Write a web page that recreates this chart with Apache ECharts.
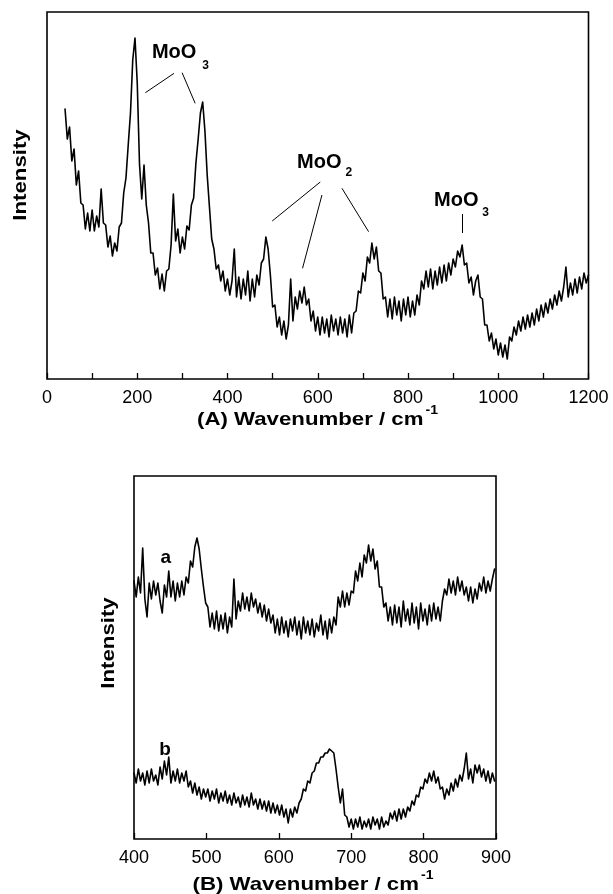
<!DOCTYPE html>
<html>
<head>
<meta charset="utf-8">
<script src="https://cdn.jsdelivr.net/npm/echarts@6/dist/echarts.min.js"></script>
<style>
  html, body { margin: 0; padding: 0; background: #fff; }
  #chart { width: 613px; height: 894px; }
</style>
</head>
<body>
<div id="chart"></div>
<script>
// Raman spectrum (A): intensities sampled every 5 cm-1 starting at 40 cm-1
const spectrumAStart = 40;
const spectrumAStep = 5;
const spectrumA = [
  270, 240, 252, 218, 230, 194, 208, 176, 174, 150,
  166, 148, 169, 148, 163, 152, 190, 156, 154, 132,
  143, 123, 136, 128, 152, 156, 186, 201, 234, 266,
  319, 341, 296, 215, 180, 214, 174, 156, 126, 126,
  104, 111, 90, 105, 88, 108, 110, 134, 185, 138,
  150, 126, 142, 130, 153, 149, 174, 181, 216, 240,
  266, 277, 248, 204, 172, 140, 130, 110, 114, 98,
  108, 88, 100, 84, 98, 130, 82, 102, 80, 100,
  84, 108, 78, 100, 82, 104, 94, 116, 120, 142,
  130, 104, 72, 74, 52, 62, 44, 58, 40, 54,
  100, 58, 82, 70, 88, 76, 92, 74, 80, 58,
  68, 48, 62, 44, 62, 46, 60, 42, 64, 48,
  60, 44, 62, 46, 60, 42, 64, 46, 66, 68,
  88, 86, 106, 98, 122, 116, 136, 120, 132, 108,
  106, 80, 82, 62, 80, 60, 82, 64, 78, 58,
  80, 64, 82, 62, 78, 64, 84, 74, 98, 90,
  108, 92, 110, 90, 108, 94, 112, 96, 114, 98,
  116, 104, 120, 112, 128, 122, 134, 114, 116, 96,
  102, 84, 98, 104, 82, 80, 54, 54, 38, 46,
  30, 40, 24, 36, 22, 34, 20, 42, 38, 52,
  44, 58, 48, 62, 50, 64, 52, 66, 54, 70,
  58, 74, 62, 76, 66, 80, 70, 84, 74, 88,
  78, 92, 112, 82, 96, 84, 100, 86, 102, 90,
  106, 96, 104
];

// Spectra (B): traces a and b sampled every 3 cm-1 starting at 400 cm-1
const spectraBStart = 400;
const spectraBStep = 3;
const traceA = [
  258, 242, 262, 246, 291, 240, 222, 256, 240, 258,
  244, 256, 238, 226, 254, 242, 268, 242, 258, 238,
  256, 242, 258, 244, 262, 256, 278, 272, 292, 301,
  290, 270, 252, 236, 232, 212, 226, 210, 228, 208,
  224, 210, 226, 206, 222, 212, 260, 220, 238, 228,
  246, 230, 242, 228, 246, 232, 240, 226, 236, 222,
  234, 218, 230, 216, 224, 206, 220, 204, 222, 206,
  218, 202, 220, 208, 222, 204, 218, 200, 222, 206,
  218, 204, 220, 202, 216, 208, 224, 204, 218, 200,
  220, 206, 222, 214, 242, 232, 248, 232, 246, 234,
  248, 246, 268, 258, 276, 262, 284, 276, 294, 278,
  290, 270, 278, 252, 252, 232, 236, 218, 232, 214,
  234, 216, 232, 212, 238, 218, 230, 214, 236, 216,
  232, 210, 236, 218, 230, 214, 234, 218, 236, 220,
  232, 218, 238, 250, 244, 260, 246, 258, 244, 262,
  248, 258, 244, 252, 238, 252, 236, 250, 240, 256,
  248, 262, 246, 258, 248, 260, 270
];
const traceB = [
  66, 56, 70, 58, 66, 54, 68, 56, 70, 58,
  64, 54, 72, 60, 78, 64, 82, 56, 68, 58,
  70, 56, 66, 58, 68, 52, 58, 46, 56, 44,
  52, 40, 50, 42, 50, 38, 48, 40, 50, 36,
  46, 38, 48, 36, 44, 34, 46, 36, 42, 32,
  44, 34, 42, 32, 46, 34, 40, 30, 40, 30,
  38, 28, 38, 26, 36, 26, 34, 24, 34, 22,
  30, 16, 30, 22, 32, 26, 36, 40, 50, 48,
  58, 56, 66, 68, 76, 76, 82, 82, 86, 86,
  90, 88, 86, 70, 52, 36, 50, 24, 22, 12,
  20, 10, 20, 12, 22, 10, 18, 12, 20, 10,
  22, 14, 20, 10, 22, 12, 18, 14, 26, 20,
  28, 18, 30, 20, 30, 22, 32, 28, 38, 34,
  44, 42, 52, 50, 60, 56, 66, 58, 68, 56,
  62, 50, 52, 40, 50, 44, 56, 48, 60, 52,
  64, 58, 70, 86, 60, 70, 56, 74, 66, 74,
  62, 70, 58, 68, 56, 66, 58
];

// Axis ranges and tick labels
const axisARange = [0, 1200];
const axisBRange = [400, 900];
const labelsA = [0, 200, 400, 600, 800, 1000, 1200];
const labelsB = [400, 500, 600, 700, 800, 900];

// Peak assignments for spectrum (A): label, subscript, anchors in data units
const peakLabels = [
  { main: 'MoO', sub: '3', at: [281.7, 327], subAt: [351.6, 313] },
  { main: 'MoO', sub: '2', at: [603.4, 217], subAt: [668.8, 206] },
  { main: 'MoO', sub: '3', at: [907.0, 179], subAt: [971.9, 166] }
];
// Leader lines from the labels to the bands, in data units
const leaderLines = [
  [[218.0, 286.3], [281.6, 305.7]],
  [[299.4, 306.3], [328.3, 275.7]],
  [[499.1, 158.0], [605.6, 197.0]],
  [[566.3, 110.7], [609.3, 184.0]],
  [[653.7, 190.7], [712.7, 147.3]],
  [[919.8, 165.0], [919.8, 146.0]]
];
// Trace names in panel (B)
const traceLabels = [
  { text: 'a', at: [444, 281] },
  { text: 'b', at: [443, 89] }
];

const FONT = '"Liberation Sans", Arial, Helvetica, sans-serif';

function toPairs(start, step, values) {
  return values.map((v, i) => [start + i * step, v]);
}

const chart = echarts.init(document.getElementById('chart'), null, { renderer: 'canvas' });

function valueAxis(gridIndex, range, labels) {
  return {
    type: 'value',
    gridIndex: gridIndex,
    min: range[0],
    max: range[1],
    interval: 100,
    axisLine: { show: false },
    axisTick: { show: true, inside: true, length: 6, lineStyle: { color: '#000', width: 1.3 } },
    axisLabel: {
      show: true,
      margin: 10,
      color: '#000',
      fontFamily: FONT,
      fontSize: 18,
      formatter: v => (labels.indexOf(v) >= 0 ? String(v) : '')
    },
    splitLine: { show: false }
  };
}

function hiddenY(gridIndex, max) {
  return {
    type: 'value', gridIndex: gridIndex, min: 0, max: max,
    axisLine: { show: false }, axisTick: { show: false },
    axisLabel: { show: false }, splitLine: { show: false }
  };
}

const traceStyle = { color: '#000', width: 1.6, join: 'round', cap: 'round' };

chart.setOption({
  animation: false,
  backgroundColor: '#fff',
  grid: [
    { left: 47, top: 12, width: 541.5, height: 367, show: true, borderColor: '#000', borderWidth: 1.6, backgroundColor: 'transparent' },
    { left: 134, top: 476, width: 362, height: 363, show: true, borderColor: '#000', borderWidth: 1.6, backgroundColor: 'transparent' }
  ],
  xAxis: [
    valueAxis(0, axisARange, labelsA),
    valueAxis(1, axisBRange, labelsB)
  ],
  yAxis: [hiddenY(0, 367), hiddenY(1, 363)],
  series: [
    {
      type: 'line', xAxisIndex: 0, yAxisIndex: 0, silent: true,
      showSymbol: false, symbol: 'none', lineStyle: traceStyle,
      data: toPairs(spectrumAStart, spectrumAStep, spectrumA),
      markLine: {
        silent: true, symbol: ['none', 'none'], animation: false,
        label: { show: false },
        lineStyle: { color: '#000', width: 1, type: 'solid' },
        emphasis: { disabled: true },
        data: leaderLines.map(seg => [{ coord: seg[0] }, { coord: seg[1] }])
      }
    },
    {
      type: 'line', xAxisIndex: 1, yAxisIndex: 1, silent: true,
      showSymbol: false, symbol: 'none', lineStyle: traceStyle,
      data: toPairs(spectraBStart, spectraBStep, traceA)
    },
    {
      type: 'line', xAxisIndex: 1, yAxisIndex: 1, silent: true,
      showSymbol: false, symbol: 'none', lineStyle: traceStyle,
      data: toPairs(spectraBStart, spectraBStep, traceB)
    }
  ]
});

// Text annotations and axis titles
const measureCtx = document.createElement('canvas').getContext('2d');
function textWidth(str, size, weight) {
  measureCtx.font = weight + ' ' + size + 'px ' + FONT;
  return measureCtx.measureText(str).width;
}

function textEl(str, x, y, size, opts) {
  opts = opts || {};
  const weight = opts.weight || 'bold';
  return {
    type: 'text', silent: true,
    x: x, y: y,
    rotation: opts.rotation || 0,
    scaleX: opts.scaleX || 1,
    style: {
      text: str,
      fill: '#000',
      font: weight + ' ' + size + 'px ' + FONT,
      textAlign: opts.align || 'center',
      textVerticalAlign: 'middle',
      align: opts.align || 'center',
      verticalAlign: 'middle'
    }
  };
}

function axisTitle(main, sup, cx, cy) {
  const size = 19, supSize = 12, stretch = 1.17, gap = 2;
  const w1 = textWidth(main, size, 'bold') * stretch;
  const w2 = textWidth(sup, supSize, 'bold') * stretch;
  const left = cx - (w1 + gap + w2) / 2;
  return [
    textEl(main, left, cy, size, { align: 'left', scaleX: stretch }),
    textEl(sup, left + w1 + gap, cy - 9, supSize, { align: 'left', scaleX: stretch })
  ];
}

const graphics = [];
peakLabels.forEach(p => {
  const m = chart.convertToPixel({ gridIndex: 0 }, p.at);
  const s = chart.convertToPixel({ gridIndex: 0 }, p.subAt);
  graphics.push(textEl(p.main, m[0], m[1], 20));
  graphics.push(textEl(p.sub, s[0], s[1], 12));
});
traceLabels.forEach(t => {
  const m = chart.convertToPixel({ gridIndex: 1 }, t.at);
  graphics.push(textEl(t.text, m[0], m[1], 19));
});
graphics.push(textEl('Intensity', 21, 175, 19, { rotation: Math.PI / 2, scaleX: 1.17 }));
graphics.push(textEl('Intensity', 109, 643, 19, { rotation: Math.PI / 2, scaleX: 1.17 }));
axisTitle('(A) Wavenumber / cm', '-1', 317.5, 420).forEach(g => graphics.push(g));
axisTitle('(B) Wavenumber / cm', '-1', 313, 885).forEach(g => graphics.push(g));

chart.setOption({ graphic: { elements: graphics } });
</script>
</body>
</html>
